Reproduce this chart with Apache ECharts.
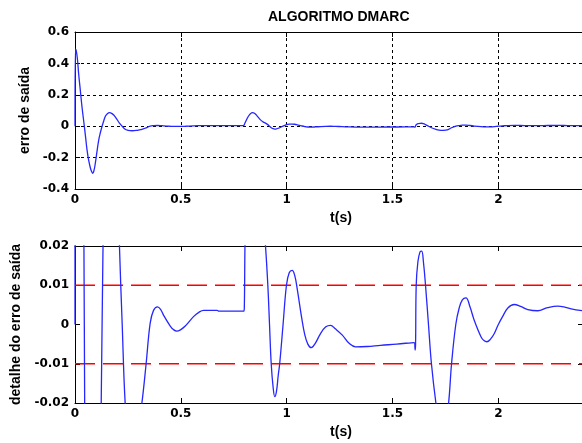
<!DOCTYPE html>
<html>
<head>
<meta charset="utf-8">
<script src="https://cdn.jsdelivr.net/npm/echarts@6/dist/echarts.min.js"></script>
<style>
  html, body { margin: 0; padding: 0; background: #fff; }
  #chart { width: 582px; height: 443px; }
</style>
</head>
<body>
<div id="chart"></div>
<script>
// tempo (s) e erro de saída
const tempo = [
  0, 0.002, 0.006, 0.012, 0.017, 0.025, 0.033, 0.044, 0.05, 0.057,
  0.065, 0.073, 0.079, 0.084, 0.09, 0.096, 0.104, 0.112, 0.12, 0.128,
  0.136, 0.144, 0.153, 0.163, 0.173, 0.183, 0.195, 0.21, 0.223, 0.237,
  0.25, 0.27, 0.29, 0.305, 0.316, 0.336, 0.355, 0.371, 0.39, 0.405,
  0.418, 0.45, 0.465, 0.481, 0.5, 0.521, 0.56, 0.585, 0.608, 0.671,
  0.68, 0.797, 0.8, 0.803, 0.81, 0.82, 0.83, 0.838, 0.848, 0.86,
  0.875, 0.89, 0.9, 0.911, 0.919, 0.927, 0.936, 0.944, 0.952, 0.96,
  0.967, 0.983, 0.999, 1.012, 1.026, 1.038, 1.05, 1.07, 1.086, 1.1,
  1.116, 1.135, 1.16, 1.185, 1.207, 1.23, 1.263, 1.295, 1.326, 1.38,
  1.444, 1.52, 1.602, 1.607, 1.609, 1.612, 1.62, 1.63, 1.638, 1.646,
  1.656, 1.67, 1.684, 1.705, 1.72, 1.735, 1.75, 1.765, 1.779, 1.799,
  1.815, 1.83, 1.847, 1.866, 1.886, 1.918, 1.932, 1.946, 1.962, 1.981,
  2.0, 2.02, 2.045, 2.075, 2.105, 2.139, 2.186, 2.233, 2.281, 2.31,
  2.344, 2.4
];
const erro = [
  0, 0.49, 0.48, 0.42, 0.337, 0.23, 0.124, 0, -0.07, -0.152,
  -0.22, -0.268, -0.29, -0.3, -0.28, -0.236, -0.16, -0.088, -0.04, 0,
  0.035, 0.065, 0.08, 0.086, 0.082, 0.071, 0.05, 0.02, 0, -0.02,
  -0.026, -0.029, -0.027, -0.023, -0.02, -0.01, 0.0003, 0.0036, 0.0045, 0.0038,
  0.0024, -0.0004, -0.0013, -0.0017, -0.0013, -0.0004, 0.002, 0.0031, 0.0036, 0.0036,
  0.0034, 0.0034, 0.0045, 0.02, 0.04, 0.065, 0.081, 0.087, 0.083, 0.066,
  0.042, 0.026, 0.02, 0.01, 0, -0.01, -0.016, -0.0184, -0.017, -0.013,
  -0.01, 0, 0.01, 0.0132, 0.0138, 0.0125, 0.009, 0.002, -0.0027, -0.005,
  -0.0059, -0.0048, -0.0023, -0.0006, -0.0002, -0.0011, -0.0027, -0.0048, -0.0057, -0.0056,
  -0.0053, -0.005, -0.0046, -0.0065, -0.005, 0.01, 0.016, 0.0185, 0.0187, 0.016,
  0.01, 0, -0.01, -0.02, -0.025, -0.027, -0.025, -0.02, -0.01, 0,
  0.0042, 0.0063, 0.0068, 0.0045, 0.0011, -0.0031, -0.0041, -0.0044, -0.0038, -0.0023,
  0, 0.002, 0.0042, 0.0051, 0.0046, 0.0038, 0.0035, 0.0043, 0.0047, 0.0045,
  0.004, 0.0035
];
// faixa de tolerância (linhas vermelhas tracejadas)
const faixa = [0.01, -0.01];

const pontos = tempo.map((t, i) => [t, erro[i]]);

const tickFont = { fontFamily: "DejaVu Sans", fontWeight: "bold", fontSize: 12, color: "#000" };
const nameFont = { fontFamily: "Liberation Sans", fontWeight: "bold", fontSize: 14, color: "#000" };
const preto = { lineStyle: { color: "#000", width: 1 } };

function eixoX(grid, grade) {
  return {
    type: "value", gridIndex: grid, min: 0, max: 2.4, interval: 0.5,
    axisLine: { show: true, onZero: false, ...preto },
    axisTick: { show: true, inside: true, length: 5, ...preto },
    axisLabel: { ...tickFont, margin: 5, showMaxLabel: false },
    splitLine: { show: grade, lineStyle: { color: "#000", type: [3, 3], width: 1 } },
    name: "t(s)", nameLocation: "middle", nameGap: 22,
    nameTextStyle: { ...nameFont, padding: [0, 0, 0, 24] },
  };
}
function eixoTopo(grid) {
  return {
    type: "value", gridIndex: grid, position: "top", min: 0, max: 2.4, interval: 0.5,
    axisLine: { show: true, onZero: false, ...preto },
    axisTick: { show: true, inside: true, length: 5, ...preto },
    axisLabel: { show: false }, splitLine: { show: false },
  };
}

const chart = echarts.init(document.getElementById("chart"));
chart.setOption({
  animation: false,
  backgroundColor: "#fff",
  title: {
    text: "ALGORITMO DMARC", left: 263, top: 5,
    textStyle: { ...nameFont },
  },
  grid: [
    { left: 75, right: -1, top: 32, height: 157, outerBoundsMode: "none" },
    { left: 75, right: -1, top: 246, height: 157, outerBoundsMode: "none" },
  ],
  xAxis: [eixoX(0, true), eixoTopo(0), eixoX(1, false), eixoTopo(1)],
  yAxis: [
    {
      type: "value", gridIndex: 0, min: -0.4, max: 0.6, interval: 0.2,
      axisLine: { show: true, onZero: false, ...preto },
      axisTick: { show: true, inside: true, length: 5, ...preto },
      axisLabel: { ...tickFont, margin: 6 },
      splitLine: { show: true, lineStyle: { color: "#000", type: [3, 3], width: 1 } },
      name: "erro de saída", nameLocation: "middle", nameGap: 40, nameRotate: 90,
      nameTextStyle: { ...nameFont },
    },
    {
      type: "value", gridIndex: 1, min: -0.02, max: 0.02, interval: 0.01,
      axisLine: { show: true, onZero: false, ...preto },
      axisTick: { show: true, inside: true, length: 5, ...preto },
      axisLabel: { ...tickFont, margin: 6 },
      splitLine: { show: false },
      name: "detalhe do erro de saída", nameLocation: "middle", nameGap: 52, nameRotate: 90,
      nameTextStyle: { ...nameFont },
    },
    {
      type: "value", gridIndex: 1, position: "right", min: -0.02, max: 0.02, interval: 0.01,
      axisLine: { show: true, onZero: false, ...preto },
      axisTick: { show: true, inside: true, length: 5, ...preto },
      axisLabel: { show: false }, splitLine: { show: false },
    },
  ],
  series: [
    {
      type: "line", xAxisIndex: 0, yAxisIndex: 0, data: pontos,
      showSymbol: false, smooth: 0.4,
      lineStyle: { color: "#2626ff", width: 1.3 },
    },
    ...faixa.map((v) => ({
      type: "line", xAxisIndex: 2, yAxisIndex: 1, silent: true,
      data: [[0, v], [2.4, v]], showSymbol: false,
      lineStyle: { color: "#ff0000", type: [20, 8], width: 1.6 },
    })),
    {
      type: "line", xAxisIndex: 2, yAxisIndex: 1, data: pontos,
      showSymbol: false, smooth: 0.4,
      lineStyle: { color: "#2626ff", width: 1.3 },
    },
  ],
});
</script>
</body>
</html>
